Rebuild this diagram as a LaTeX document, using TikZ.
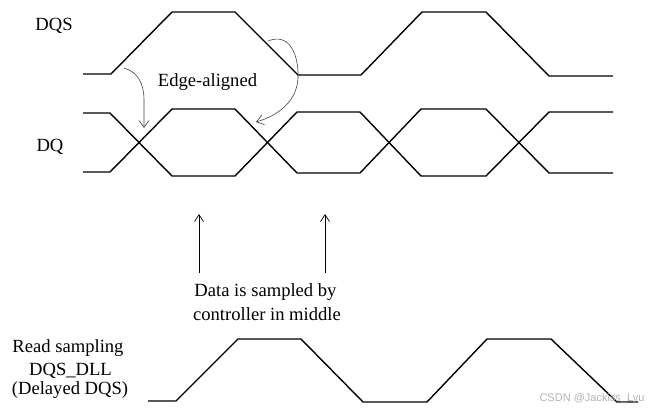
\documentclass[tikz,border=0pt]{standalone}
\usepackage{fontspec}
\setmainfont{Liberation Serif}
\newfontfamily\wmfont{Liberation Sans}
\usetikzlibrary{arrows.meta}
\tikzset{
  signal/.style={line width=1.4pt, line join=miter},
  lbl/.style={inner sep=0pt, anchor=base, font=\fontsize{18.6}{20}\selectfont},
  curvearrow/.style={line width=0.6pt, draw=black!75, -{Straight Barb[length=7pt,width=10pt,line width=0.6pt]}},
  samplearrow/.style={line width=0.8pt, -{Straight Barb[length=7pt,width=9pt,line width=0.7pt]}},
}
\begin{document}
\begin{tikzpicture}[x=1pt,y=-1pt]
\useasboundingbox (0,0) rectangle (656,413);
% DQS
\draw[signal] (83,74) -- (111,74) -- (172,12) -- (235,12) -- (298,75) -- (361,75) -- (422,12) -- (486,12) -- (549,76) -- (613,76);
% DQ
\draw[signal] (83,113) -- (110,113) -- (172,176) -- (235,176) -- (297,112) -- (360,112) -- (421,176) -- (486,176) -- (549,112) -- (613,112);
\draw[signal] (83,172) -- (110,172) -- (172,109) -- (235,109) -- (297,173) -- (360,173) -- (421,109) -- (486,109) -- (549,173) -- (613,173);
% DQS_DLL
\draw[signal] (148,401) -- (176,401) -- (238,339) -- (301,339) -- (363,402) -- (427,402) -- (487,339) -- (551,339) -- (617,402) -- (638,402);
% labels
\node[lbl] (dqs) at (54,30.7) {DQS};
\node[lbl] (dq) at (50,151) {DQ};
\node[lbl] (edge) at (207.5,86.7) {Edge-aligned};
\node[lbl] (data1) at (265.5,296) {Data is sampled by};
\node[lbl] (data2) at (267,320) {controller in middle};
\node[lbl] (rs1) at (68,352.7) {Read sampling};
\node[lbl] (rs2) at (70.5,375) {DQS\_DLL};
\node[lbl] (rs3) at (70,394) {(Delayed DQS)};
\node[inner sep=0pt, text=black!30, font=\wmfont\fontsize{11}{12}\selectfont] (wm) at (592,399) {CSDN @Jackiss\_Lyu};
% curved arrows
\coordinate (a1s) at (124,68);
\coordinate (a1e) at (144,128);
\coordinate (a2s) at (268,41);
\coordinate (a2m) at (298,78);
\coordinate (a2e) at (256,122);
\draw[curvearrow] (a1s) .. controls (138,72) and (144,84) .. (144,100) -- (a1e);
\draw[curvearrow] (a2s) .. controls (290,32) and (299,56) .. (a2m) .. controls (297,100) and (280,115) .. (a2e);
% sampling arrows
\coordinate (s1b) at (199,273);
\coordinate (s1t) at (199,214);
\coordinate (s2b) at (325,273);
\coordinate (s2t) at (325,214);
\draw[samplearrow] (s1b) -- (s1t);
\draw[samplearrow] (s2b) -- (s2t);
\end{tikzpicture}
\end{document}
